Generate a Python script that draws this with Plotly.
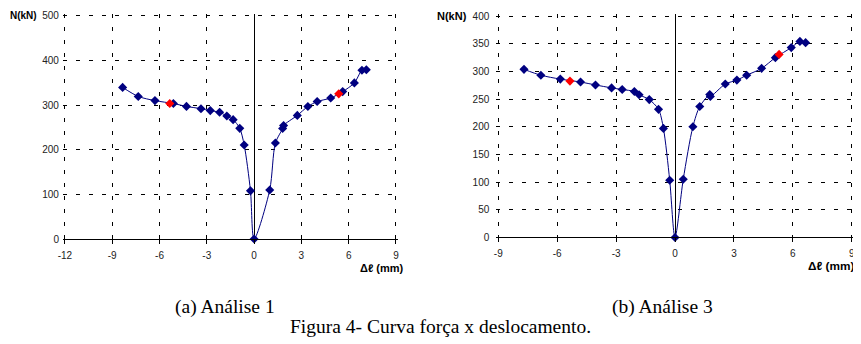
import plotly.graph_objects as go

# ---- Data: (a) Análise 1 ----
a_x = [-8.34, -7.35, -6.29, -5.12, -4.29, -3.37, -2.78, -2.19, -1.73, -1.33, -0.91, -0.63, -0.23, 0.0,
       0.99, 1.35, 1.81, 1.87, 2.74, 3.41, 4.00, 4.86, 5.62, 6.36, 6.84, 7.12]
a_y = [339.7, 319.5, 310.1, 303.6, 297.1, 292.0, 287.7, 284.0, 275.5, 267.5, 248.0, 210.8, 107.9, 0.0,
       110.0, 215.0, 247.5, 254.5, 277.0, 297.0, 308.0, 316.0, 330.3, 349.8, 378.0, 379.4]
a_red_x = [-5.35, 5.37]
a_red_y = [303.6, 325.3]

# ---- Data: (b) Análise 3 ----
b_x = [-7.69, -6.83, -5.84, -4.81, -4.05, -3.23, -2.69, -2.07, -1.83, -1.31, -0.84, -0.59, -0.27, 0.0,
       0.42, 0.91, 1.26, 1.77, 1.80, 2.56, 3.15, 3.65, 4.41, 5.11, 5.92, 6.36, 6.65]
b_y = [304.1, 293.5, 286.5, 281.2, 275.9, 270.6, 267.6, 264.1, 258.2, 249.4, 231.8, 197.3, 103.5, 0.0,
       105.3, 200.3, 237.0, 258.5, 255.0, 277.6, 284.7, 293.5, 305.9, 325.3, 343.5, 354.7, 352.4]
b_red_x = [-5.35, 5.30]
b_red_y = [282.9, 331.2]

a_xticks = [-12, -9, -6, -3, 0, 3, 6, 9]
a_yticks = [0, 100, 200, 300, 400, 500]
b_xticks = [-9, -6, -3, 0, 3, 6, 9]
b_yticks = [0, 50, 100, 150, 200, 250, 300, 350, 400]

NAVY = "#000080"
OFF = 8                      # default page body margin
W, H = 861 - OFF, 344 - OFF  # figure size so that it fits the window exactly

fig = go.Figure()

def add_series(xs, ys, rx, ry, xa, ya):
    fig.add_trace(go.Scatter(x=xs, y=ys, mode="lines+markers", xaxis=xa, yaxis=ya,
                             line=dict(color=NAVY, width=1, shape="spline", smoothing=0.8),
                             marker=dict(symbol="diamond", size=7, color=NAVY),
                             cliponaxis=False, showlegend=False))
    fig.add_trace(go.Scatter(x=rx, y=ry, mode="markers", xaxis=xa, yaxis=ya,
                             marker=dict(symbol="diamond", size=7, color="#ff0000"),
                             cliponaxis=False, showlegend=False))

add_series(a_x, a_y, a_red_x, a_red_y, "x", "y")
add_series(b_x, b_y, b_red_x, b_red_y, "x2", "y2")

tickfont = dict(family="Liberation Sans, Arial", size=10, color="#222")
grid = dict(showgrid=True, gridcolor="black", gridwidth=1, griddash="4px,9px")

def px(xp):
    return (xp - OFF) / W

def py(yp):
    return 1 - (yp - OFF) / H

def xaxis(p0, p1, t0, t1, ticks, anchor):
    # extend 2px beyond the first/last tick so that edge gridlines are drawn
    k = (t1 - t0) / (p1 - p0)
    return dict(domain=[px(p0 - 2), px(p1 + 2)], range=[t0 - 2 * k, t1 + 2 * k],
                tickvals=ticks, ticktext=[str(t) for t in ticks],
                anchor=anchor, showline=True, linecolor="black", linewidth=1,
                ticks="outside", ticklen=4, tickcolor="black", ticklabelstandoff=3,
                zeroline=True, zerolinecolor="black", zerolinewidth=1,
                tickfont=tickfont, fixedrange=True, **grid)

def yaxis(pb, pt, tmax, ticks, anchor, standoff):
    k = tmax / (pb - pt)
    return dict(domain=[py(pb), py(pt - 2)], range=[0, tmax + 2 * k],
                tickvals=ticks, ticktext=[str(t) for t in ticks],
                anchor=anchor, showline=False, zeroline=False, ticks="",
                ticklabelstandoff=standoff, ticklabeloverflow="allow",
                tickfont=tickfont, fixedrange=True, **grid)

fig.update_layout(
    width=W, height=H, margin=dict(l=0, r=0, t=0, b=0),
    paper_bgcolor="white", plot_bgcolor="white",
    xaxis=xaxis(60.3, 393.7, -12, 9, a_xticks, "y"),
    yaxis=yaxis(242.3, 13.0, 500, a_yticks, "x", 3),
    xaxis2=xaxis(496.7, 852.7, -9, 9, b_xticks, "y2"),
    yaxis2=yaxis(240.7, 13.5, 400, b_yticks, "x2", 6),
)

ann = []
def text(x, y, s, size, family="Liberation Sans, Arial", bold=False, anchor="center"):
    ann.append(dict(x=px(x), y=py(y), xref="paper", yref="paper", text=("<b>%s</b>" % s) if bold else s,
                    showarrow=False, xanchor=anchor, yanchor="middle",
                    font=dict(family=family, size=size, color="black")))

text(34.5, 13, "N(kN)", 10, bold=True, anchor="right")
text(467.5, 13.5, "N(kN)", 11, bold=True, anchor="right")
text(404, 271.7, "Δℓ (mm)", 11, bold=True, anchor="right")
text(857, 270, "Δℓ (mm)", 11.8, bold=True, anchor="right")
serif = "Liberation Serif, Times New Roman"
text(222, 312, "(a) Análise 1", 19.5, family=serif)
text(662, 312, "(b) Análise 3", 19.5, family=serif)
text(438.5, 331.7, "Figura 4- Curva força x deslocamento.", 19.5, family=serif)
fig.update_layout(annotations=ann)

fig.write_html("out.html")
